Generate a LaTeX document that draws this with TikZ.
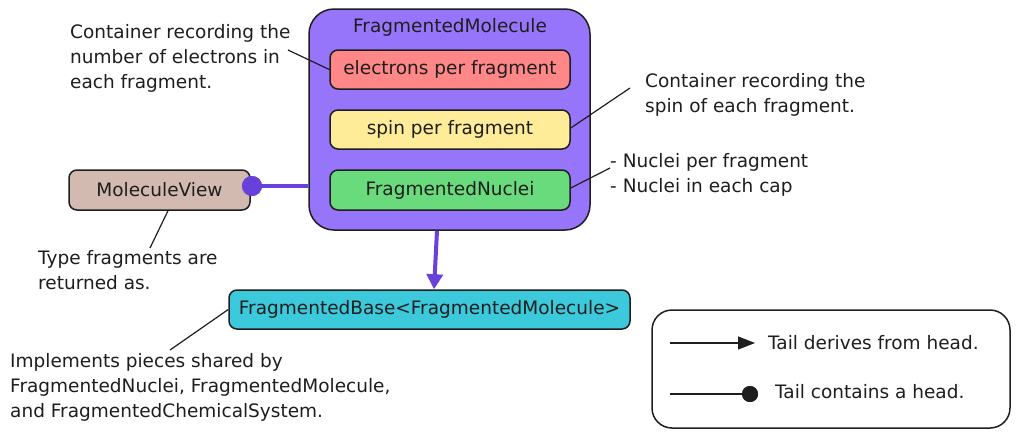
\documentclass[tikz,border=0pt]{standalone}
\usepackage{fontspec}
\setmainfont{DejaVu Sans}
\usetikzlibrary{arrows.meta}
\definecolor{ink}{HTML}{1E1E1E}
\definecolor{violetfill}{HTML}{9775FA}
\definecolor{violetline}{HTML}{6741D9}
\definecolor{redfill}{HTML}{FF8787}
\definecolor{yellowfill}{HTML}{FFEC99}
\definecolor{greenfill}{HTML}{69DB7C}
\definecolor{bronzefill}{HTML}{D2BAB0}
\definecolor{cyanfill}{HTML}{3BC9DB}
\tikzset{
  box/.style={draw=ink, line width=1.5pt, rounded corners=8pt, inner sep=0pt, text=ink},
  note/.style={inner sep=0pt, align=left, anchor=west, text=ink},
  pointer/.style={draw=ink, line width=1.2pt},
  contains/.style={draw=violetline, line width=4pt},
  derives/.style={draw=violetline, line width=4pt, -{Triangle[length=15pt,width=16pt]}},
}
\begin{document}
\begin{tikzpicture}[x=1pt,y=-1pt,font=\fontsize{18.5}{25}\selectfont]
\useasboundingbox (0,0) rectangle (1020,440);

% main container
\node[box, fill=violetfill, rounded corners=25pt, minimum width=281pt, minimum height=221pt] (fm) at (449.5,119.5) {};
\node[text=ink, inner sep=0pt] (fmt) at (450,27) {FragmentedMolecule};
\node[box, fill=redfill, minimum width=240pt, minimum height=39pt] (el) at (450,69.5) {electrons per fragment};
\node[box, fill=yellowfill, minimum width=240pt, minimum height=39pt] (sp) at (450,129.5) {spin per fragment};
\node[box, fill=greenfill, minimum width=240pt, minimum height=40pt] (fn) at (450,190) {FragmentedNuclei};

% other classes
\node[box, fill=bronzefill, minimum width=181pt, minimum height=40pt] (mv) at (159.5,190) {MoleculeView};
\node[box, fill=cyanfill, minimum width=401pt, minimum height=39pt] (fb) at (429.5,309.5) {FragmentedBase<FragmentedMolecule>};

% containment and derivation
\node[circle, fill=violetline, inner sep=0pt, minimum size=20pt] (dot) at (252,186) {};
\draw[contains] (dot.center) -- (dot -| fm.west);
\node[circle, fill=violetline, inner sep=0pt, minimum size=20pt] at (dot) {};
\draw[derives] ([xshift=-12.5pt]fm.south) -- ([xshift=4.5pt]fb.north);

% notes
\node[note] (n1) at (70,58) {Container recording the\\number of electrons in\\each fragment.};
\node[note] (n2) at (645,95) {Container recording the\\spin of each fragment.};
\node[note] (n3) at (610,175) {- Nuclei per fragment\\- Nuclei in each cap};
\node[note] (n4) at (38,270) {Type fragments are\\returned as.};
\node[note] (n5) at (10,387) {Implements pieces shared by\\FragmentedNuclei, FragmentedMolecule,\\and FragmentedChemicalSystem.};

\coordinate (c1) at (288,50);
\coordinate (c2) at (630,88);
\coordinate (c3) at (610,168);
\coordinate (c4) at (150,248);
\coordinate (c5) at (170,350);
\draw[pointer] (el.west) -- (c1);
\draw[pointer] ([yshift=1.5pt]sp.east) -- (c2);
\draw[pointer] ([yshift=2pt]fn.east) -- (c3);
\draw[pointer] ([xshift=8.5pt]mv.south) -- (c4);
\draw[pointer] (fb.west) -- (c5);

% legend
\node[box, fill=white, rounded corners=20pt, minimum width=358pt, minimum height=118pt] (lg) at (831,369) {};
\coordinate (la1) at (670,343);
\coordinate (la2) at (755,343);
\draw[draw=ink, line width=1.2pt, -{Triangle[length=17pt,width=13pt]}] (la1) -- (la2);
\node[note] (lt1) at (768,343) {Tail derives from head.};
\coordinate (lb1) at (670,394);
\node[circle, fill=ink, inner sep=0pt, minimum size=16pt] (ld) at (750,394) {};
\draw[draw=ink, line width=1.2pt] (lb1) -- (ld.center);
\node[circle, fill=ink, inner sep=0pt, minimum size=16pt] at (ld) {};
\node[note] (lt2) at (775,392) {Tail contains a head.};
\end{tikzpicture}
\end{document}
